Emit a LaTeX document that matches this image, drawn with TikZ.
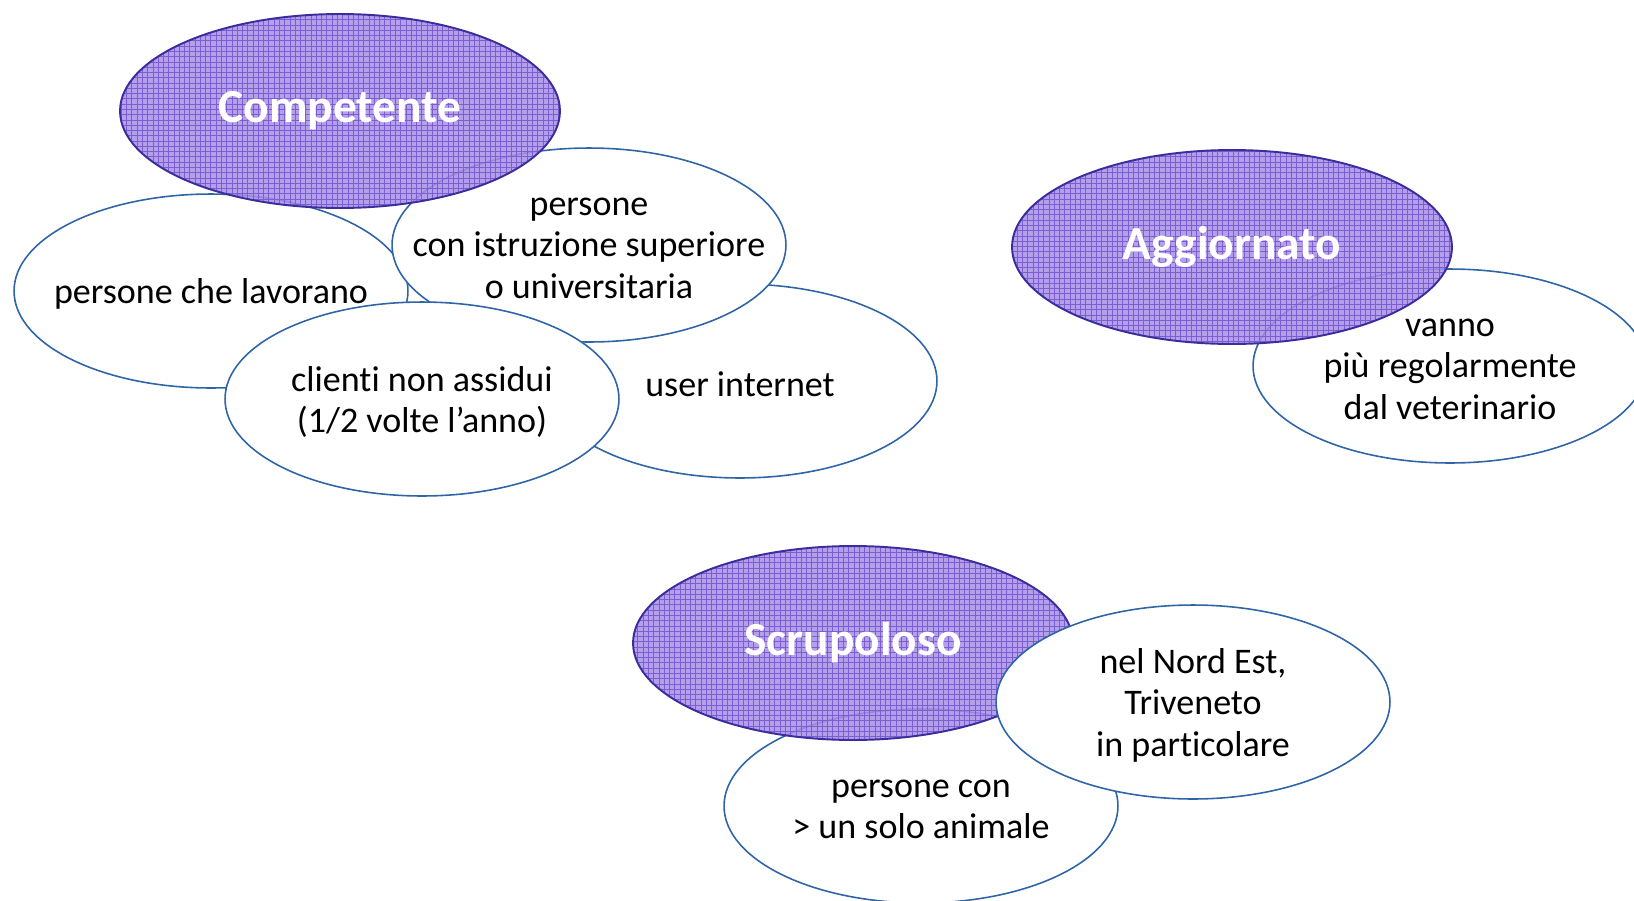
\documentclass[tikz,border=0pt]{standalone}
\usepackage{fontspec}
\setmainfont{Carlito}[Ligatures=NoCommon]
\usetikzlibrary{shapes.geometric,patterns}
\definecolor{lavfill}{HTML}{A68EE6}
\definecolor{lavgrid}{HTML}{7D5DD2}
\definecolor{lavline}{HTML}{3A2E9C}
\definecolor{bubline}{HTML}{2F65A6}
\begin{document}
\begin{tikzpicture}[x=0.02cm, y=-0.02cm,
  bubble/.style={ellipse, draw=bubline, line width=0.9pt, fill=white, minimum width=7.88cm, minimum height=3.88cm, inner sep=0pt},
  bubtext/.style={align=center, inner sep=0pt, yshift=-1.8pt, font=\fontsize{20.5}{23.5}\selectfont},
  topic/.style={ellipse, draw=lavline, line width=1.1pt, preaction={fill=lavfill, fill opacity=0.85}, pattern=grid, pattern color=lavgrid, fill opacity=0.85, text opacity=1, minimum width=8.8cm, minimum height=3.88cm, inner sep=0pt, text=white, font=\fontsize{27}{31}\selectfont\bfseries}]
\useasboundingbox (0,0) rectangle (1634,900);
% Competente
\node[bubble, label={[bubtext]center:persone che lavorano}] (lav) at (211,291) {};
\node[bubble, label={[bubtext]center:user internet}] (web) at (740,381) {};
\node[bubble, label={[bubtext]center:{persone\\con istruzione superiore\\o universitaria}}] (istr) at (589,245) {};
\node[bubble, label={[bubtext]center:{clienti non assidui\\(1/2 volte l’anno)}}] (cli) at (422,399) {};
\node[topic] (comp) at (340,111) {Competente};
% Aggiornato
\node[bubble, label={[bubtext]center:{vanno\\più regolarmente\\dal veterinario}}] (vet) at (1450,366) {};
\node[topic] (aggi) at (1232,247) {Aggiornato};
% Scrupoloso
\node[bubble, label={[bubtext]center:{persone con\\> un solo animale}}] (anim) at (921,806) {};
\node[topic] (scru) at (853,643) {Scrupoloso};
\node[bubble, label={[bubtext]center:{nel Nord Est,\\Triveneto\\in particolare}}] (nord) at (1193,702) {};
\end{tikzpicture}
\end{document}
